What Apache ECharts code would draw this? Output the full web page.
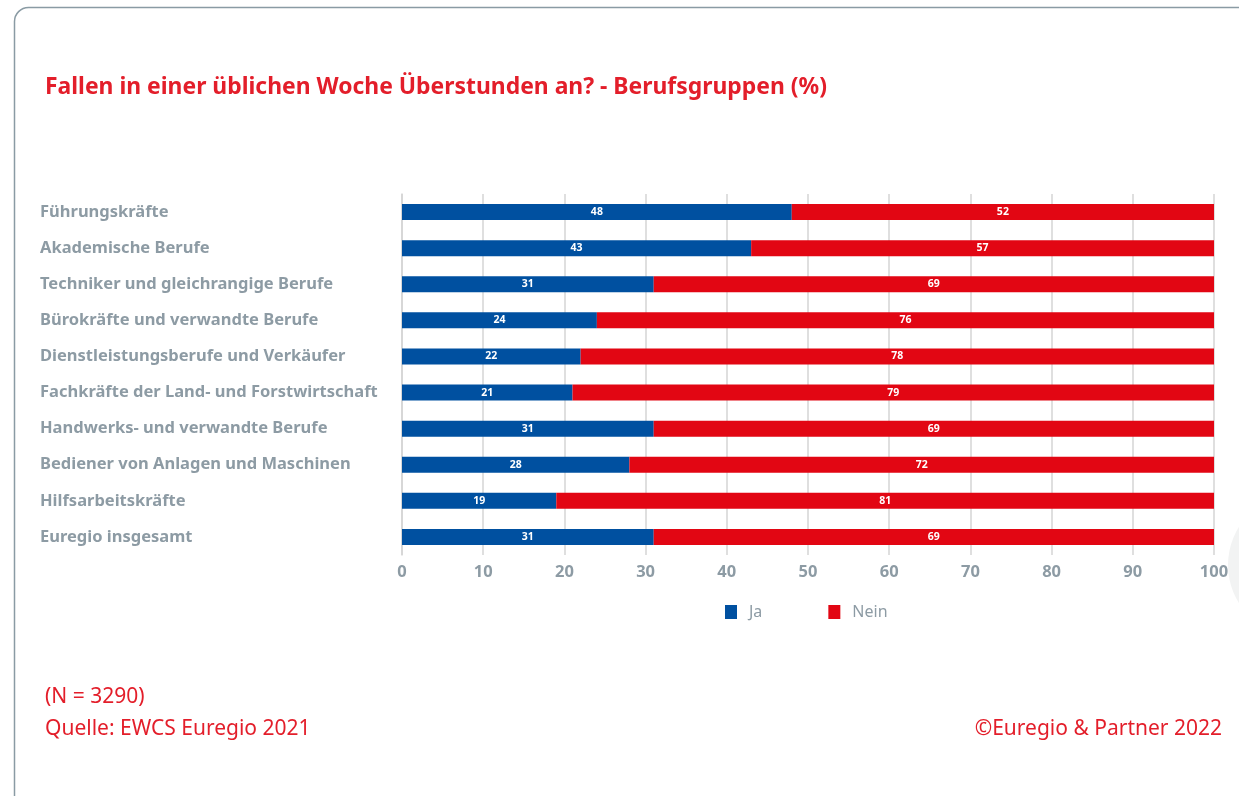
<!DOCTYPE html>
<html>
<head>
<meta charset="utf-8">
<script src="https://cdn.jsdelivr.net/npm/echarts@6/dist/echarts.min.js"></script>
<style>
  html, body { margin: 0; padding: 0; background: #fff; }
  #chart { width: 1239px; height: 796px; }
</style>
</head>
<body>
<div id="chart"></div>
<script>
// Berufsgruppen (von oben nach unten)
const categories = [
  'Führungskräfte',
  'Akademische Berufe',
  'Techniker und gleichrangige Berufe',
  'Bürokräfte und verwandte Berufe',
  'Dienstleistungsberufe und Verkäufer',
  'Fachkräfte der Land- und Forstwirtschaft',
  'Handwerks- und verwandte Berufe',
  'Bediener von Anlagen und Maschinen',
  'Hilfsarbeitskräfte',
  'Euregio insgesamt'
];
const ja = [48, 43, 31, 24, 22, 21, 31, 28, 19, 31];
const nein = [52, 57, 69, 76, 78, 79, 69, 72, 81, 69];
const xTicks = [0, 10, 20, 30, 40, 50, 60, 70, 80, 90, 100];

const red = '#e31e2a';
const grey = '#8d9ba4';

const chart = echarts.init(document.getElementById('chart'));
chart.setOption({
  animation: false,
  textStyle: { fontFamily: 'Noto Sans' },
  graphic: [
    // Rahmen
    { type: 'rect', shape: { x: 14.5, y: 7.5, width: 1260, height: 820, r: 14 },
      style: { fill: 'none', stroke: '#8a9ba4', lineWidth: 1.5 }, z: -1 },
    // heller Kreis rechts
    { type: 'circle', shape: { cx: 1300, cy: 565, r: 72 },
      style: { fill: '#f2f3f3' }, z: -2 },
    { type: 'text', left: 45, top: 76,
      style: { text: 'Fallen in einer üblichen Woche Überstunden an? - Berufsgruppen (%)',
        fill: red, font: 'bold 22.9px "Noto Sans"' } },
    { type: 'text', left: 45, top: 687,
      style: { text: '(N = 3290)', fill: red, font: '21px "Noto Sans"' } },
    { type: 'text', left: 45, top: 719,
      style: { text: 'Quelle: EWCS Euregio 2021', fill: red, font: '21px "Noto Sans"' } },
    { type: 'text', right: 17, top: 719,
      style: { text: '©Euregio & Partner 2022', fill: red, font: '21px "Noto Sans"' } }
  ],
  legend: {
    top: 599,
    left: 720,
    icon: 'rect',
    itemWidth: 12,
    itemHeight: 14,
    itemGap: 66,
    textStyle: { color: grey, fontSize: 16, padding: [0, 0, 0, 7] },
    data: ['Ja', 'Nein']
  },
  grid: { left: 402, right: 25, top: 194, height: 361 },
  xAxis: {
    type: 'value',
    min: 0,
    max: 100,
    interval: 10,
    axisLine: { show: false },
    axisTick: { show: false },
    axisLabel: {
      color: grey, fontSize: 16.5, fontWeight: 'bold', margin: 9,
      formatter: v => xTicks.includes(v) ? String(v) : ''
    },
    splitLine: { lineStyle: { color: '#d5d5d5', width: 1.5 } }
  },
  yAxis: {
    type: 'category',
    inverse: true,
    data: categories,
    axisLine: { lineStyle: { color: '#d5d5d5', width: 1.5 } },
    axisTick: { show: false },
    axisLabel: { align: 'left', margin: 362, color: grey, fontSize: 16.5, fontWeight: 'bold' }
  },
  series: [
    {
      name: 'Ja', type: 'bar', stack: 'all', data: ja, barWidth: 16,
      itemStyle: { color: '#0050a0' },
      label: { show: true, position: 'inside', color: '#fff', fontSize: 10.5, fontWeight: 'bold' }
    },
    {
      name: 'Nein', type: 'bar', stack: 'all', data: nein, barWidth: 16,
      itemStyle: { color: '#e20613' },
      label: { show: true, position: 'inside', color: '#fff', fontSize: 10.5, fontWeight: 'bold' }
    }
  ]
});
</script>
</body>
</html>
